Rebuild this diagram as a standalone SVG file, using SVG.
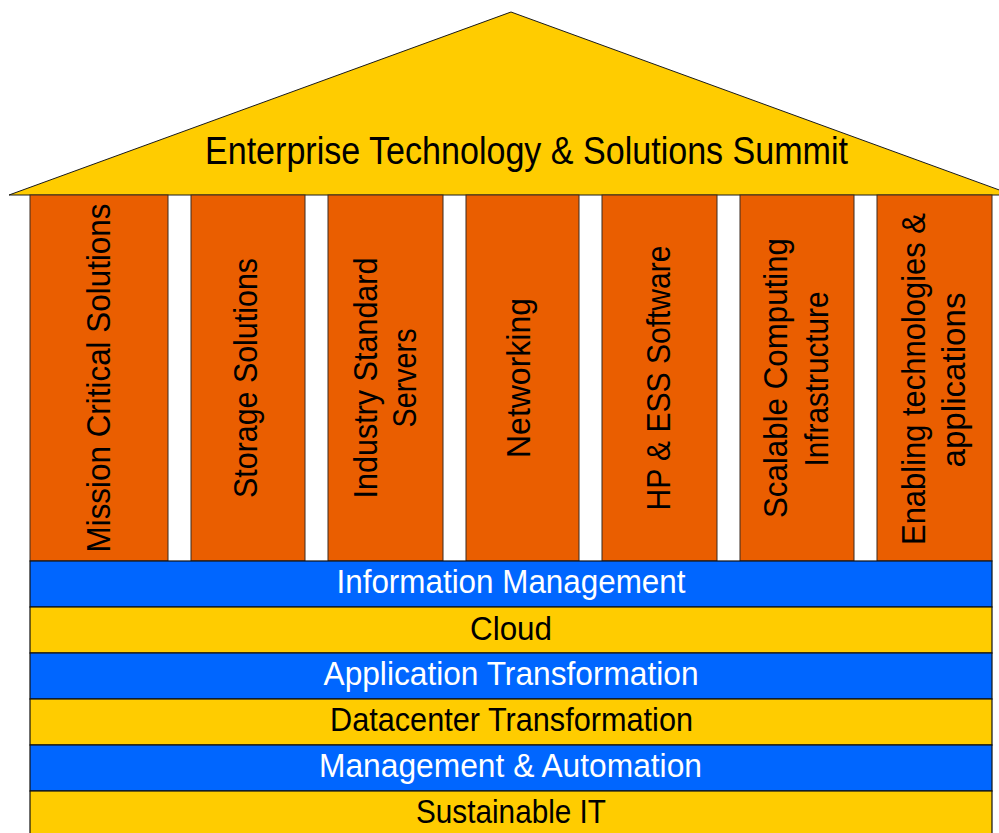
<svg xmlns="http://www.w3.org/2000/svg" width="999" height="833" viewBox="0 0 999 833">
<style>
.roof{fill:#FFCC00;stroke:#1a1a1a;stroke-width:1}
.pillar{fill:#EA5E00;stroke:#3a2a20;stroke-width:1}
.blue{fill:#0066FF;stroke:#111;stroke-width:1.2}
.yel{fill:#FFCC00;stroke:#111;stroke-width:1.2}
text{font-family:"Liberation Sans","DejaVu Sans",sans-serif;text-anchor:middle}
.vt{font-size:33px;fill:#000}
.bt{font-size:33px}
.w{fill:#fff}
.k{fill:#000}
</style>
<rect width="999" height="833" fill="#fff"/>
<g id="roof">
<polygon class="roof" points="9,195 511,12 1013,195"/>
<text x="526.5" y="164" font-size="38" textLength="643" lengthAdjust="spacingAndGlyphs" class="k">Enterprise Technology &amp; Solutions Summit</text>
</g>
<g id="pillar-mission">
<rect class="pillar" x="30" y="195" width="138" height="366"/>
<text class="vt" transform="translate(110,378) rotate(-90)" textLength="349" lengthAdjust="spacingAndGlyphs">Mission Critical Solutions</text>
</g>
<g id="pillar-storage">
<rect class="pillar" x="191" y="195" width="114" height="366"/>
<text class="vt" transform="translate(257,378) rotate(-90)" textLength="240" lengthAdjust="spacingAndGlyphs">Storage Solutions</text>
</g>
<g id="pillar-servers">
<rect class="pillar" x="328" y="195" width="115" height="366"/>
<text class="vt" transform="translate(377,378) rotate(-90)" textLength="241" lengthAdjust="spacingAndGlyphs">Industry Standard</text>
<text class="vt" transform="translate(416,378) rotate(-90)" textLength="99" lengthAdjust="spacingAndGlyphs">Servers</text>
</g>
<g id="pillar-networking">
<rect class="pillar" x="466" y="195" width="113" height="366"/>
<text class="vt" transform="translate(530,378) rotate(-90)" textLength="160" lengthAdjust="spacingAndGlyphs">Networking</text>
</g>
<g id="pillar-software">
<rect class="pillar" x="602" y="195" width="115" height="366"/>
<text class="vt" transform="translate(670,378) rotate(-90)" textLength="265" lengthAdjust="spacingAndGlyphs">HP &amp; ESS Software</text>
</g>
<g id="pillar-scalable">
<rect class="pillar" x="740" y="195" width="114" height="366"/>
<text class="vt" transform="translate(787,378) rotate(-90)" textLength="280" lengthAdjust="spacingAndGlyphs">Scalable Computing</text>
<text class="vt" transform="translate(828,379) rotate(-90)" textLength="175" lengthAdjust="spacingAndGlyphs">Infrastructure</text>
</g>
<g id="pillar-enabling">
<rect class="pillar" x="877" y="195" width="115" height="366"/>
<text class="vt" transform="translate(925,379) rotate(-90)" textLength="332" lengthAdjust="spacingAndGlyphs">Enabling technologies &amp;</text>
<text class="vt" transform="translate(965,380) rotate(-90)" textLength="175" lengthAdjust="spacingAndGlyphs">applications</text>
</g>
<g id="band-information">
<rect class="blue" x="30" y="561" width="962" height="46"/>
<text class="bt w" x="511" y="593" textLength="349" lengthAdjust="spacingAndGlyphs">Information Management</text>
</g>
<g id="band-cloud">
<rect class="yel" x="30" y="607" width="962" height="46"/>
<text class="bt k" x="511" y="640" textLength="82" lengthAdjust="spacingAndGlyphs">Cloud</text>
</g>
<g id="band-application">
<rect class="blue" x="30" y="653" width="962" height="46"/>
<text class="bt w" x="511" y="685" textLength="375" lengthAdjust="spacingAndGlyphs">Application Transformation</text>
</g>
<g id="band-datacenter">
<rect class="yel" x="30" y="699" width="962" height="46"/>
<text class="bt k" x="511.5" y="731" textLength="363" lengthAdjust="spacingAndGlyphs">Datacenter Transformation</text>
</g>
<g id="band-management">
<rect class="blue" x="30" y="745" width="962" height="46"/>
<text class="bt w" x="510.5" y="777" textLength="383" lengthAdjust="spacingAndGlyphs">Management &amp; Automation</text>
</g>
<g id="band-sustainable">
<rect class="yel" x="30" y="791" width="962" height="50"/>
<text class="bt k" x="511" y="823" textLength="190" lengthAdjust="spacingAndGlyphs">Sustainable IT</text>
</g>
<g id="connectors"></g>
</svg>
